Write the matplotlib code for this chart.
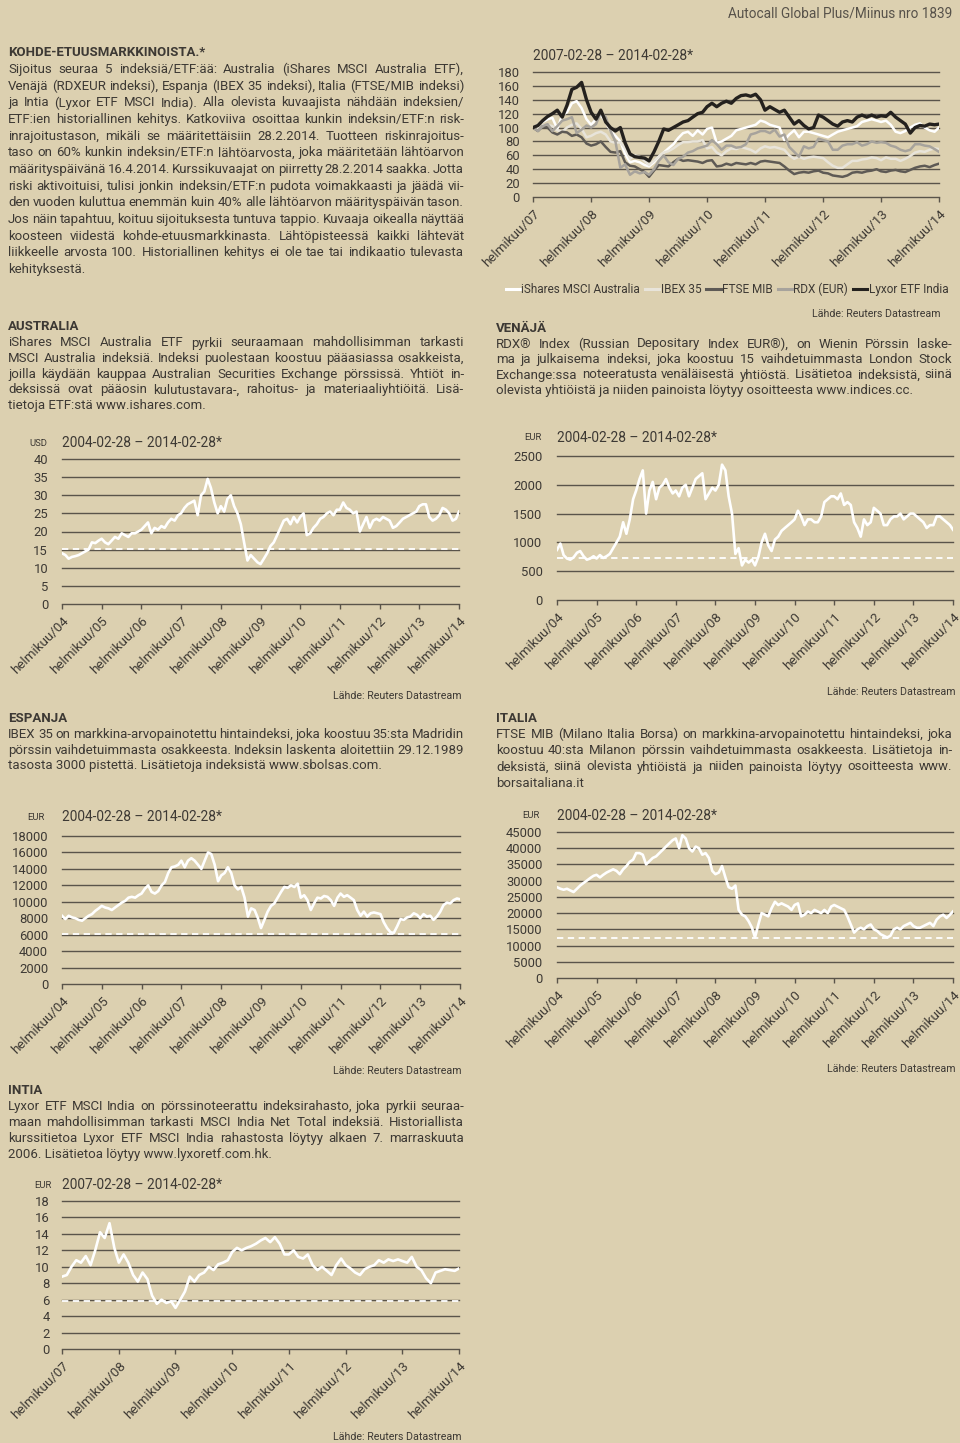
import numpy as np
import pandas as pd
import matplotlib
matplotlib.use('Agg')
import matplotlib.pyplot as plt
from matplotlib.lines import Line2D

# ---------------- data ----------------
aus_usd = [14, 13.5, 12.5, 13, 13.2, 13.5, 14, 14.5, 15, 17, 16.8, 17.5,
           18, 17, 16.5, 17.5, 18.5, 18, 19.5, 19, 18.5, 19.5, 19.5, 20,
           20.5, 21.5, 22.5, 19.5, 21, 20.5, 21.5, 21, 22.5, 23.5, 23, 24.5,
           25, 26.5, 27.5, 28, 28.5, 24.5, 30, 31, 34.5, 32, 28, 25,
           27, 25.5, 29, 30, 27, 25, 22, 17, 12, 13.5, 12.5, 11.5,
           11, 12.5, 14, 16, 17, 19, 21, 23, 23.5, 22, 24, 22.5,
           24, 25, 19, 19.5, 21, 22, 23.5, 24, 25, 25.5, 24.5, 26,
           26, 28, 26.5, 26, 25, 25.5, 20, 22, 24, 21, 23, 23.5,
           23, 24, 23.5, 23, 21, 21.5, 22.5, 23.5, 24, 24.5, 25, 25.5,
           27, 27.5, 27.5, 24, 23, 23.5, 24.5, 26.5, 26, 25, 23, 23.5, 25.5]
aus_barrier = 15.2

rdx_eur = [870, 980, 780, 720, 700, 740, 820, 850, 760, 700, 720, 760,
           720, 780, 730, 760, 800, 900, 1000, 1100, 1350, 1150, 1400, 1750,
           1900, 2100, 2250, 1500, 1900, 2050, 1750, 1950, 2000, 2100, 1950, 1850,
           1900, 1800, 1950, 2000, 1800, 1950, 2100, 2150, 2200, 1750, 1850, 1950,
           1900, 2000, 2350, 2250, 1800, 1500, 800, 900, 600, 700, 650, 700,
           600, 750, 1000, 1150, 950, 850, 1050, 1100, 1200, 1250, 1300, 1350,
           1400, 1550, 1450, 1300, 1400, 1400, 1350, 1350, 1450, 1700, 1750, 1800,
           1800, 1750, 1850, 1650, 1700, 1650, 1350, 1250, 1100, 1400, 1300, 1350,
           1600, 1550, 1500, 1300, 1300, 1400, 1450, 1450, 1500, 1400, 1450, 1500,
           1500, 1450, 1400, 1350, 1250, 1300, 1300, 1450, 1450, 1400, 1350, 1300, 1220]
rdx_barrier = 735

ibex_eur = [8300, 7900, 8300, 8100, 8000, 7800, 7700, 8000, 8300, 8500, 8900, 9200,
            9500, 9300, 9200, 9000, 9300, 9600, 9900, 10100, 10500, 10600, 10500, 10800,
            11000, 11600, 12000, 11200, 11000, 11300, 12000, 12400, 13500, 14200, 14300, 14500,
            15000, 14200, 15000, 15300, 15000, 14500, 14000, 15000, 16000, 15800, 14500, 12500,
            13200, 13500, 14200, 13500, 12000, 11500, 11800, 10500, 8200, 9200, 9000, 8000,
            6800, 7800, 8800, 9500, 9800, 10500, 11200, 11800, 11700, 12000, 11800, 12200,
            10500, 10800, 10200, 9000, 9800, 10500, 10400, 10700, 10600, 10200, 9500, 10500,
            11000, 10600, 10800, 10500, 10200, 9000, 8300, 8800, 8200, 8600, 8700, 8600,
            8500, 7500, 6800, 6300, 6200, 7000, 7900, 7800, 8100, 8200, 8600, 8400,
            8000, 8500, 8200, 8300, 7800, 8200, 8800, 9600, 9900, 9800, 10200, 10400, 10300]
ibex_barrier = 6050

mib_eur = [28000, 27500, 27200, 27500, 27000, 26500, 27500, 28500, 29300, 30000, 30800, 31500,
           31800, 31000, 31800, 32500, 33000, 33500, 33000, 32000, 33500, 34500, 35800, 36500,
           38500, 38500, 38000, 35000, 36000, 37000, 37500, 38500, 39500, 40500, 41500, 42500,
           43000, 40000, 44000, 43000, 40000, 39000, 40500, 40000, 38000, 38500, 37000, 33000,
           32000, 32500, 34500, 31000, 28000, 27500, 28500, 21000, 19500, 19000, 17500, 15500,
           12500, 16500, 20000, 19500, 19000, 21500, 23500, 22500, 23000, 22500, 22000, 21000,
           22500, 23000, 19000, 19500, 20500, 20000, 21000, 20500, 20000, 21000, 20000, 22000,
           22500, 22000, 21500, 21000, 19000, 16500, 14000, 15000, 15500, 15000, 16000, 16500,
           15000, 14500, 13500, 13000, 12500, 13000, 15000, 15500, 15000, 16000, 16500, 17000,
           16000, 15500, 15500, 16000, 16500, 17000, 16000, 18000, 19000, 19500, 18500, 19500, 20500]
mib_barrier = 12300

india_eur = [8.8, 9.0, 10.0, 10.8, 10.5, 11.3, 10.2, 12.0, 14.2, 13.5, 15.3, 12.3,
             10.5, 11.5, 10.5, 9.0, 8.2, 9.3, 8.5, 6.5, 5.5, 6.0, 5.6, 5.8,
             5.0, 6.0, 7.0, 8.8, 8.2, 9.0, 9.3, 10.0, 9.6, 10.3, 10.5, 10.8,
             11.8, 12.3, 12.0, 12.3, 12.5, 12.8, 13.2, 13.5, 13.0, 13.6, 12.8, 11.5,
             11.5, 12.0, 11.2, 11.0, 11.5, 10.2, 9.6, 10.0, 9.5, 9.0, 10.2, 11.0,
             10.2, 9.8, 9.3, 9.0, 9.7, 10.0, 10.2, 10.8, 10.5, 10.9, 10.7, 10.9,
             10.7, 10.5, 11.2, 10.0, 9.6, 8.6, 8.0, 9.3, 9.5, 9.7, 9.6, 9.5, 9.8]
india_barrier = 5.85

# combined chart (start = 100)
comb_aus = [100, 104, 108, 112, 114, 98, 118, 122, 135, 138, 128, 112,
            104, 112, 118, 108, 95, 88, 80, 62, 50, 52, 50, 46,
            44, 50, 58, 64, 70, 76, 85, 92, 94, 88, 96, 90,
            98, 100, 78, 80, 84, 88, 96, 98, 100, 102, 104, 110,
            108, 104, 102, 100, 82, 90, 96, 86, 94, 94, 92, 90,
            88, 86, 90, 94, 96, 98, 100, 102, 108, 110, 112, 110,
            108, 110, 104, 94, 92, 95, 100, 104, 106, 100, 96, 94, 100]
comb_ibex = [100, 98, 103, 104, 102, 96, 94, 100, 104, 106, 98, 86,
             88, 92, 94, 90, 80, 78, 79, 70, 55, 60, 58, 52,
             46, 52, 58, 64, 66, 70, 75, 79, 79, 80, 80, 82,
             70, 72, 64, 60, 66, 70, 69, 72, 70, 68, 64, 70,
             73, 71, 72, 70, 68, 60, 55, 58, 55, 57, 58, 57,
             56, 50, 45, 42, 42, 47, 52, 52, 54, 55, 57, 56,
             53, 57, 55, 55, 52, 55, 59, 64, 66, 65, 68, 70, 69]
comb_mib = [100, 95, 102, 100, 93, 90, 94, 93, 88, 90, 86, 77,
            74, 76, 80, 72, 65, 64, 66, 50, 45, 44, 40, 36,
            29, 38, 46, 45, 44, 50, 55, 52, 53, 52, 51, 49,
            52, 53, 44, 45, 48, 46, 49, 48, 47, 49, 47, 51,
            52, 51, 50, 49, 44, 38, 33, 35, 36, 35, 37, 38,
            35, 34, 31, 30, 29, 31, 35, 36, 35, 37, 38, 40,
            37, 36, 38, 39, 37, 36, 39, 42, 44, 45, 43, 46, 48]
comb_rdx = [100, 95, 102, 105, 95, 102, 110, 112, 115, 92, 97, 103,
            100, 105, 122, 115, 95, 80, 42, 47, 32, 37, 34, 36,
            32, 40, 52, 60, 50, 46, 55, 58, 64, 66, 70, 72,
            74, 82, 76, 68, 74, 74, 71, 72, 76, 90, 92, 95,
            95, 92, 97, 87, 90, 72, 65, 58, 73, 70, 72, 84,
            82, 80, 68, 68, 74, 76, 76, 79, 74, 76, 80, 78,
            79, 78, 74, 72, 68, 66, 68, 76, 76, 74, 73, 69, 65]
comb_india = [100, 103, 110, 116, 120, 125, 115, 132, 155, 158, 165, 140,
              122, 112, 125, 108, 100, 95, 100, 78, 62, 58, 57, 56,
              52, 65, 80, 98, 96, 100, 104, 108, 110, 115, 120, 122,
              130, 135, 130, 135, 138, 135, 142, 146, 147, 145, 148, 140,
              125, 130, 126, 122, 125, 115, 105, 110, 103, 98, 100, 118,
              115, 110, 105, 102, 108, 110, 108, 115, 118, 115, 118, 115,
              117, 116, 122, 115, 110, 105, 92, 100, 103, 102, 105, 104, 105]
comb_names = ['iShares MSCI Australia', 'IBEX 35', 'FTSE MIB', 'RDX (EUR)', 'Lyxor ETF India']

# ---------------- style ----------------
BG = '#dcd0b0'
TXT = '#3d3934'
GRID = '#5a544a'
plt.rcParams['font.family'] = ['Roboto', 'DejaVu Sans']

W, H = 960, 1443
fig = plt.figure(figsize=(W / 100, H / 100), dpi=100, facecolor=BG)
renderer = fig.canvas.get_renderer()
BODY = 9.5
TICK = 9.4
XTICK = 9.6


def put(x, y, s, size=BODY, weight='normal', ha='left', va='center', color=TXT):
    return fig.text(x / 100, (H - y) / 100, s, transform=fig.dpi_scale_trans,
                    fontsize=size, fontweight=weight, ha=ha, va=va, color=color)


def paragraph(lines, x0, x1, ys, size=BODY):
    for i, (line, y) in enumerate(zip(lines, ys)):
        if i == len(lines) - 1:
            put(x0, y, line, size)
            continue
        words = line.split()
        ts = [put(0, y, w, size) for w in words]
        widths = [t.get_window_extent(renderer).width for t in ts]
        gap = (x1 - x0 - sum(widths)) / max(len(words) - 1, 1)
        x = x0
        for t, w in zip(ts, widths):
            t.set_position((x / 100, (H - y) / 100))
            x += w + gap


def make_axes(l, t, r, b):
    return fig.add_axes([l / W, 1 - b / H, (r - l) / W, (b - t) / H])


def style(ax, dates, ylim, yticks, ypad):
    ax.set_facecolor('none')
    for s in ['top', 'right', 'left']:
        ax.spines[s].set_visible(False)
    ax.spines['bottom'].set_color(GRID)
    ax.spines['bottom'].set_linewidth(1.0)
    ax.set_ylim(*ylim)
    ax.set_yticks(yticks)
    ax.set_xlim(dates[0], dates[-1])
    ticks = dates[::12]
    ax.set_xticks(ticks)
    ax.set_xticklabels(['helmikuu/%s' % d.strftime('%y') for d in ticks])
    for lab in ax.get_xticklabels():
        lab.set_rotation(45)
        lab.set_ha('right')
        lab.set_va('top')
        lab.set_rotation_mode('anchor')
    ax.tick_params(axis='x', direction='out', length=3.5, width=1, color=GRID,
                   labelsize=XTICK, labelcolor=TXT, pad=4)
    ax.tick_params(axis='y', length=0, labelsize=TICK, labelcolor=TXT, pad=ypad)
    for yv in yticks[1:]:
        ax.axhline(yv, color=GRID, lw=1.0, zorder=1, clip_on=False)


def single(rect, start, vals, barrier, ylim, yticks, ypad, unit, unit_xy, title, lahde):
    ax = make_axes(*rect)
    dates = pd.date_range(start, periods=len(vals), freq='ME')
    style(ax, dates, ylim, yticks, ypad)
    ax.axhline(barrier, color='white', lw=1.3, ls=(0, (3.5, 2.5)), zorder=2)
    ax.plot(dates, vals, color='white', lw=1.9, zorder=3, solid_joinstyle='round')
    put(unit_xy[0], unit_xy[1], unit, size=6.8, ha='right')
    put(rect[0], unit_xy[1], title, size=9.9)
    put(lahde[0], lahde[1], 'Lähde: Reuters Datastream', size=7.7, ha='right')
    return ax

# ---------------- header ----------------
put(952, 13, 'Autocall Global Plus/Miinus nro 1839', size=9.8, ha='right', color='#57524a')

# ---------------- left column text ----------------
put(8, 52, 'KOHDE-ETUUSMARKKINOISTA.*', weight='bold')
intro = [
    'Sijoitus seuraa 5 indeksiä/ETF:ää: Australia (iShares MSCI Australia ETF),',
    'Venäjä (RDXEUR indeksi), Espanja (IBEX 35 indeksi), Italia (FTSE/MIB indeksi)',
    'ja Intia (Lyxor ETF MSCI India). Alla olevista kuvaajista nähdään indeksien/',
    'ETF:ien historiallinen kehitys. Katkoviiva osoittaa kunkin indeksin/ETF:n risk-',
    'inrajoitustason, mikäli se määritettäisiin 28.2.2014. Tuotteen riskinrajoitus-',
    'taso on 60% kunkin indeksin/ETF:n lähtöarvosta, joka määritetään lähtöarvon',
    'määrityspäivänä 16.4.2014. Kurssikuvaajat on piirretty 28.2.2014 saakka. Jotta',
    'riski aktivoituisi, tulisi jonkin indeksin/ETF:n pudota voimakkaasti ja jäädä vii-',
    'den vuoden kuluttua enemmän kuin 40% alle lähtöarvon määrityspäivän tason.',
    'Jos näin tapahtuu, koituu sijoituksesta tuntuva tappio. Kuvaaja oikealla näyttää',
    'koosteen viidestä kohde-etuusmarkkinasta. Lähtöpisteessä kaikki lähtevät',
    'liikkeelle arvosta 100. Historiallinen kehitys ei ole tae tai indikaatio tulevasta',
    'kehityksestä.']
paragraph(intro, 8, 464, [69.5 + 16.67 * i for i in range(len(intro))])

put(8, 327, 'AUSTRALIA', weight='bold')
paragraph([
    'iShares MSCI Australia ETF pyrkii seuraamaan mahdollisimman tarkasti',
    'MSCI Australia indeksiä. Indeksi puolestaan koostuu pääasiassa osakkeista,',
    'joilla käydään kauppaa Australian Securities Exchange pörssissä. Yhtiöt in-',
    'deksissä ovat pääosin kulutustavara-, rahoitus- ja materiaaliyhtiöitä. Lisä-',
    'tietoja ETF:stä www.ishares.com.'], 8, 464, [343, 358.6, 374.2, 389.8, 405.4])

put(8, 718, 'ESPANJA', weight='bold')
paragraph([
    'IBEX 35 on markkina-arvopainotettu hintaindeksi, joka koostuu 35:sta Madridin',
    'pörssin vaihdetuimmasta osakkeesta. Indeksin laskenta aloitettiin 29.12.1989',
    'tasosta 3000 pistettä. Lisätietoja indeksistä www.sbolsas.com.'], 8, 464, [734.5, 750.2, 765.9])

put(8, 1090, 'INTIA', weight='bold')
paragraph([
    'Lyxor ETF MSCI India on pörssinoteerattu indeksirahasto, joka pyrkii seuraa-',
    'maan mahdollisimman tarkasti MSCI India Net Total indeksiä. Historiallista',
    'kurssitietoa Lyxor ETF MSCI India rahastosta löytyy alkaen 7. marraskuuta',
    '2006. Lisätietoa löytyy www.lyxoretf.com.hk.'], 8, 464, [1106.7, 1122.5, 1138.3, 1154.1])

# ---------------- right column text ----------------
put(496, 328, 'VENÄJÄ', weight='bold')
paragraph([
    'RDX® Index (Russian Depositary Index EUR®), on Wienin Pörssin laske-',
    'ma ja julkaisema indeksi, joka koostuu 15 vaihdetuimmasta London Stock',
    'Exchange:ssa noteeratusta venäläisestä yhtiöstä. Lisätietoa indeksistä, siinä',
    'olevista yhtiöistä ja niiden painoista löytyy osoitteesta www.indices.cc.'],
    496, 952, [344, 359.5, 375, 390.5])

put(496, 718, 'ITALIA', weight='bold')
paragraph([
    'FTSE MIB (Milano Italia Borsa) on markkina-arvopainotettu hintaindeksi, joka',
    'koostuu 40:sta Milanon pörssin vaihdetuimmasta osakkeesta. Lisätietoja in-',
    'deksistä, siinä olevista yhtiöistä ja niiden painoista löytyy osoitteesta www.',
    'borsaitaliana.it'], 496, 952, [734.5, 750.5, 767, 783.5])

# ---------------- combined chart ----------------
axc = make_axes(533, 72, 939, 197)
cdates = pd.date_range('2007-02-28', periods=len(comb_india), freq='ME')
style(axc, cdates, (0, 180), list(range(0, 181, 20)), 9.5)
comb_series = [comb_aus, comb_ibex, comb_mib, comb_rdx, comb_india]
comb_colors = ['#ffffff', '#e8e4da', '#5e5a55', '#a7a39c', '#24211e']
comb_lw = [1.8, 1.8, 1.8, 1.8, 2.4]
draw_order = [1, 3, 2, 0, 4]
for k in draw_order:
    axc.plot(cdates, comb_series[k], color=comb_colors[k], lw=comb_lw[k], zorder=3 + k,
             solid_joinstyle='round')
put(533, 56, '2007-02-28 – 2014-02-28*', size=9.9)
handles = [Line2D([], [], color=c, lw=2.2) for c in comb_colors]
fig.legend(handles, comb_names, loc='center', bbox_to_anchor=(727 / W, 1 - 289.5 / H),
           ncol=5, frameon=False, fontsize=8.5, handlelength=1.2, handletextpad=0.1,
           columnspacing=0.45, labelcolor=TXT, borderpad=0)
put(940, 314, 'Lähde: Reuters Datastream', size=7.7, ha='right')

# ---------------- single charts ----------------
single((62, 459, 459, 604), '2004-02-29', aus_usd, aus_barrier, (0, 40), list(range(0, 41, 5)),
       10, 'USD', (47, 443), '2004-02-28 – 2014-02-28*', (461, 696))
single((557, 456, 953, 600), '2004-02-29', rdx_eur, rdx_barrier, (0, 2500), list(range(0, 2501, 500)),
       10.5, 'EUR', (542, 438), '2004-02-28 – 2014-02-28*', (955, 692))
single((62, 836, 460, 984), '2004-02-29', ibex_eur, ibex_barrier, (0, 18000), list(range(0, 18001, 2000)),
       10, 'EUR', (45, 817), '2004-02-28 – 2014-02-28*', (461, 1071))
single((557, 832, 953, 978), '2004-02-29', mib_eur, mib_barrier, (0, 45000), list(range(0, 45001, 5000)),
       10.5, 'EUR', (540, 816), '2004-02-28 – 2014-02-28*', (955, 1069))
single((62, 1201, 459, 1349), '2007-02-28', india_eur, india_barrier, (0, 18), list(range(0, 19, 2)),
       8.8, 'EUR', (52, 1185), '2007-02-28 – 2014-02-28*', (461, 1437))

fig.savefig('out.png', dpi=100, facecolor=BG)
